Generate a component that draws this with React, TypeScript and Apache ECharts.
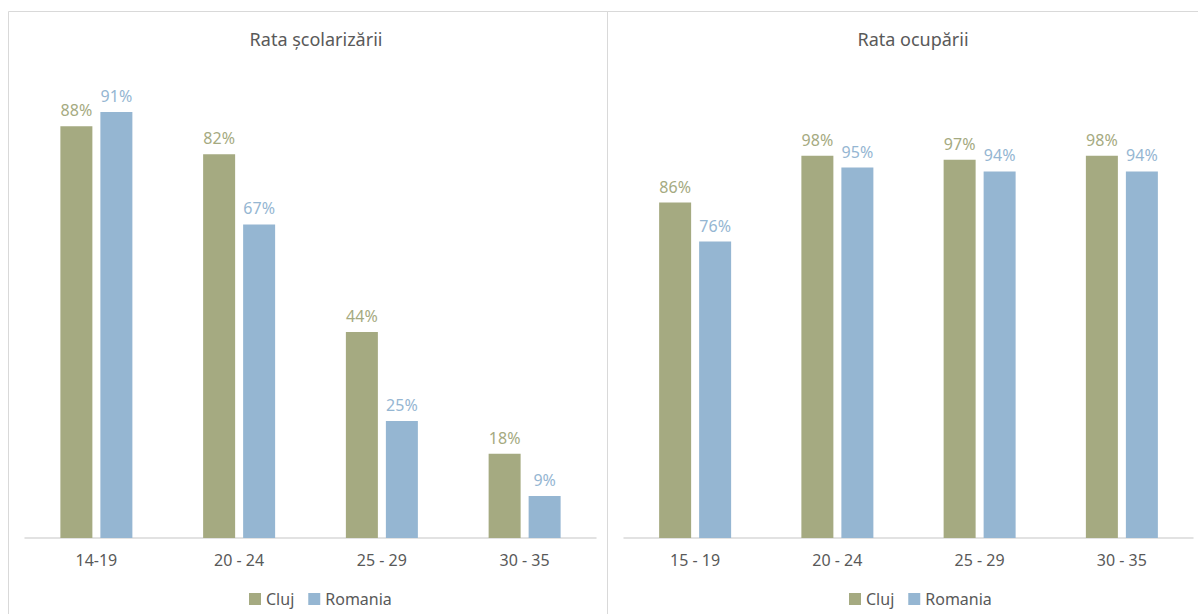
import React, { useEffect, useRef } from "react";
import * as echarts from "echarts";

const leftCategories = ["14-19", "20 - 24", "25 - 29", "30 - 35"];
const leftCluj = [88, 82, 44, 18];
const leftRomania = [91, 67, 25, 9];

const rightCategories = ["15 - 19", "20 - 24", "25 - 29", "30 - 35"];
const rightCluj = [86, 98, 97, 98];
const rightRomania = [76, 95, 94, 94];

const seriesNames = ["Cluj", "Romania"];
const titles = ["Rata școlarizării", "Rata ocupării"];

const CLUJ = "#A5AA81";
const ROM = "#95B6D2";
const TXT = "#595959";
const FONT = "Noto Sans";

export default function App() {
  const ref = useRef<HTMLDivElement>(null);
  useEffect(() => {
    const chart = echarts.init(ref.current!, undefined, { renderer: "svg" });
    const label = (color: string) => ({
      show: true,
      position: "top",
      distance: 8,
      color,
      fontSize: 16,
      fontFamily: FONT,
      formatter: (p: any) => p.value + "%",
    });
    const bar = (name: string, data: number[], idx: number, color: string) => ({
      name,
      type: "bar",
      xAxisIndex: idx,
      yAxisIndex: idx,
      data,
      barWidth: 32,
      barGap: "25%",
      itemStyle: { color },
      label: label(color),
    });
    const xAxis = (cats: string[], idx: number) => ({
      type: "category",
      gridIndex: idx,
      data: cats,
      axisTick: { show: false },
      axisLine: { lineStyle: { color: "#D9D9D9", width: 1.5 } },
      axisLabel: { color: TXT, fontSize: 16, fontFamily: FONT, margin: 14 },
    });
    const yAxis = (idx: number, max: number) => ({
      type: "value",
      gridIndex: idx,
      min: 0,
      max,
      show: false,
      splitLine: { show: false },
    });
    const legend = (left: number) => ({
      data: seriesNames,
      left,
      top: 586,
      itemWidth: 12,
      itemHeight: 12,
      icon: "rect",
      itemGap: 14,
      textStyle: { color: TXT, fontSize: 16, fontFamily: FONT },
    });
    chart.setOption({
      animation: false,
      backgroundColor: "#fff",
      title: [
        { text: titles[0], left: 311, top: 25, textAlign: "center", textStyle: { color: TXT, fontSize: 18, fontWeight: "normal", fontFamily: FONT } },
        { text: titles[1], left: 908, top: 25, textAlign: "center", textStyle: { color: TXT, fontSize: 18, fontWeight: "normal", fontFamily: FONT } },
      ],
      legend: [legend(244), legend(844)],
      grid: [
        { left: 25, width: 571, top: 70, bottom: 76 },
        { left: 624, width: 569, top: 70, bottom: 76 },
      ],
      xAxis: [xAxis(leftCategories, 0), xAxis(rightCategories, 1)],
      yAxis: [yAxis(0, 100), yAxis(1, 120)],
      series: [
        bar(seriesNames[0], leftCluj, 0, CLUJ),
        bar(seriesNames[1], leftRomania, 0, ROM),
        bar(seriesNames[0], rightCluj, 1, CLUJ),
        bar(seriesNames[1], rightRomania, 1, ROM),
      ],
      graphic: [
        { type: "rect", shape: { x: 8.5, y: 11.5, width: 599, height: 620 }, style: { fill: "none", stroke: "#D9D9D9", lineWidth: 1 }, silent: true },
        { type: "rect", shape: { x: 607.5, y: 11.5, width: 600, height: 620 }, style: { fill: "none", stroke: "#D9D9D9", lineWidth: 1 }, silent: true },
      ],
    });
    return () => chart.dispose();
  }, []);
  return <div ref={ref} style={{ position: "absolute", left: 0, top: 0, width: 1198, height: 614 }} />;
}
